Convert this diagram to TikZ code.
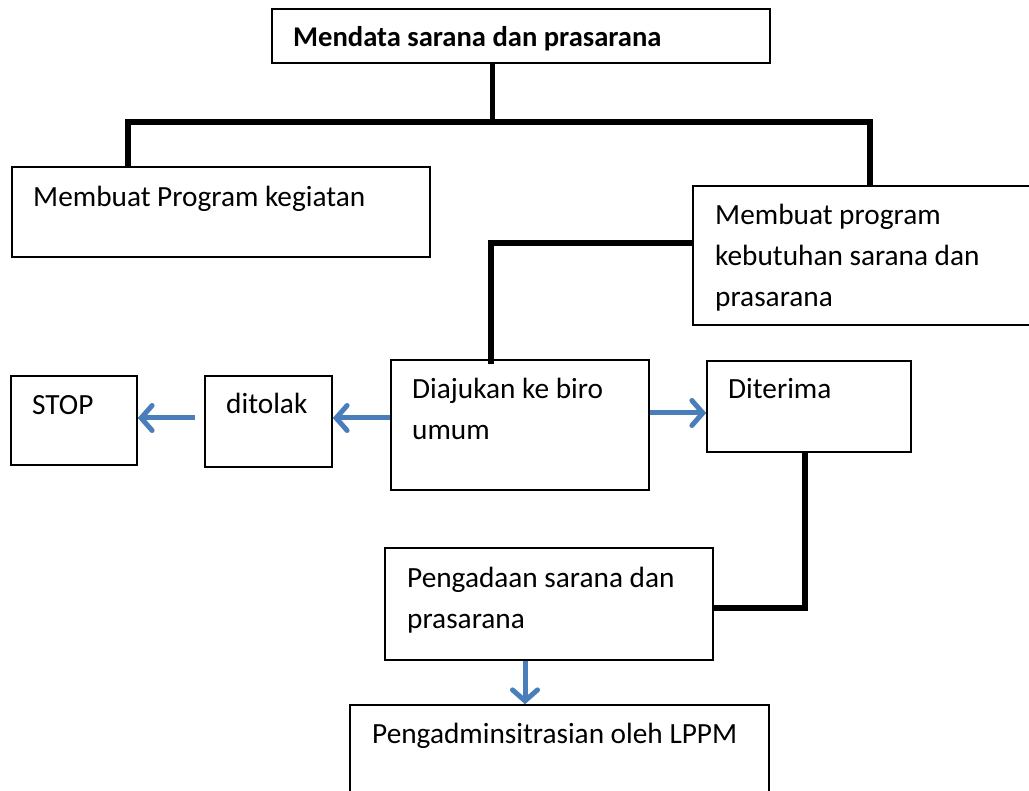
\documentclass[tikz,border=0pt]{standalone}
\usepackage{fontspec}
\setmainfont{Carlito}
\usetikzlibrary{arrows.meta}
\definecolor{flowblue}{RGB}{74,126,187}
\newcommand{\bodyfont}{\fontsize{29.3}{41}\selectfont}
% multi-line block whose baseline is that of its first line
\newcommand{\lines}[1]{\parbox[t]{400pt}{\raggedright\bodyfont #1}}
\begin{document}
\begin{tikzpicture}[x=1pt,y=-1pt,
  box/.style={draw=black,line width=1.6pt,inner sep=0pt},
  txt/.style={anchor=base west,inner sep=0pt,font=\bodyfont},
  link/.style={draw=black,line width=6.5pt,line join=miter},
  flow/.style={draw=flowblue,line width=5pt,
    -{Straight Barb[length=11pt,width=25pt,line cap=round]}}]
\clip (0,0) rectangle (1029,791);
\fill[white] (0,0) rectangle (1029,791);

% boxes
\node[box,minimum width=498pt,minimum height=54pt] (title) at (521,36) {};
\node[box,minimum width=418pt,minimum height=90pt] (prog) at (221,212) {};
\node[box,minimum width=350pt,minimum height=139pt] (need) at (868,255.5) {};
\node[box,minimum width=258pt,minimum height=130pt] (biro) at (520,425) {};
\node[box,minimum width=204pt,minimum height=91pt] (ok) at (809,406.5) {};
\node[box,minimum width=127pt,minimum height=91pt] (no) at (268.5,421.5) {};
\node[box,minimum width=126pt,minimum height=89pt] (stop) at (74,420.5) {};
\node[box,minimum width=328pt,minimum height=112pt] (buy) at (549,604) {};
\node[box,minimum width=419pt,minimum height=120pt] (adm) at (559.5,765) {};

% texts
\node[anchor=base west,inner sep=0pt,font=\fontsize{28.6}{41}\bfseries\selectfont] (ttitle) at (293,47) {Mendata sarana dan prasarana};
\node[txt] (tprog) at (33,207) {Membuat Program kegiatan};
\node[anchor=base west,inner sep=0pt] (tneed) at (715,225) {\lines{Membuat program\\kebutuhan sarana dan\\prasarana}};
\node[anchor=base west,inner sep=0pt] (tbiro) at (412,399) {\lines{Diajukan ke biro\\umum}};
\node[txt] (tok) at (728,399) {Diterima};
\node[txt] (tno) at (226,414) {ditolak};
\node[txt] (tstop) at (32,415) {STOP};
\node[anchor=base west,inner sep=0pt] (tbuy) at (407,587) {\lines{Pengadaan sarana dan\\prasarana}};
\node[txt] (tadm) at (372,743) {Pengadminsitrasian oleh LPPM};

% tree connectors
\coordinate (stem) at (492,122);
\coordinate (barL) at (128,122);
\coordinate (barR) at (870,122);
\draw[draw=black,line width=5pt] (stem |- title.south) -- (stem);
\draw[link] (barL |- prog.north) -- (barL) -- (barR) -- (barR |- need.north);
\coordinate (elbow) at (491,243);
\draw[link] (need.west |- elbow) -- (elbow) -- ([yshift=-5pt]elbow |- biro.north);
\coordinate (drop) at (805,608);
\draw[link] (drop |- ok.south) -- (drop) -- (buy.east |- drop);

% decision arrows
\coordinate (leftrow) at (0,418);
\coordinate (rightrow) at (0,413);
\coordinate (down) at (525,0);
\draw[flow] (biro.west |- leftrow) -- (no.east |- leftrow);
\coordinate (stoptail) at (195,418);
\draw[flow] (stoptail) -- (stop.east |- stoptail);
\draw[flow] (biro.east |- rightrow) -- (ok.west |- rightrow);
\draw[flow] (buy.south -| down) -- (adm.north -| down);
\end{tikzpicture}
\end{document}
